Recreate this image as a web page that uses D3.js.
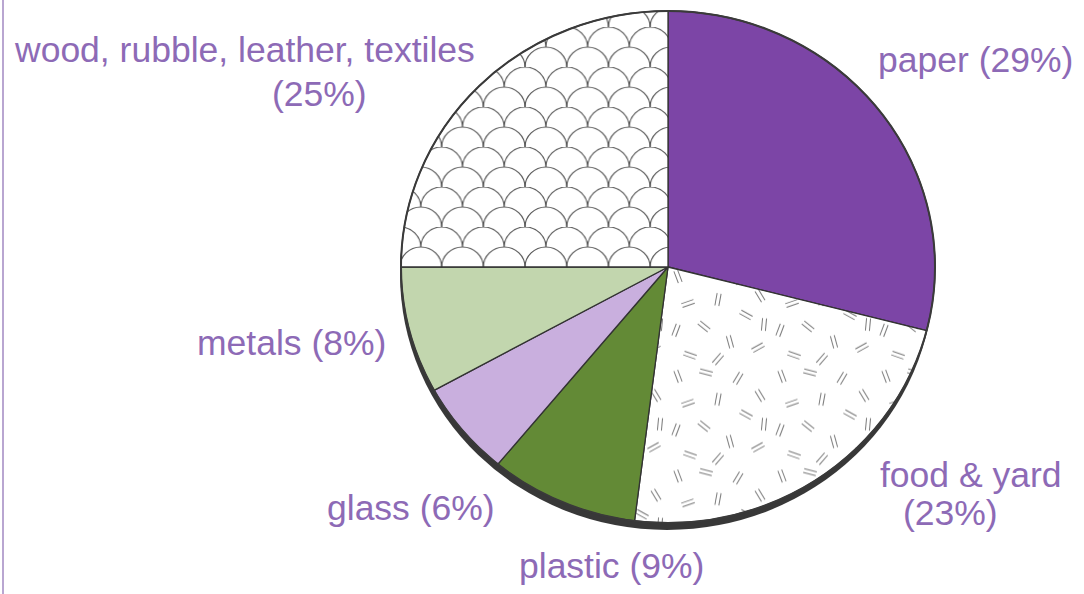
<!DOCTYPE html>
<html>
<head>
<meta charset="utf-8">
<script src="https://cdn.jsdelivr.net/npm/d3@7"></script>
<style>
  html, body { margin: 0; padding: 0; background: #fff; }
  svg { display: block; }
</style>
</head>
<body>
<script>
// ---- data ----
const categories = ["paper", "food & yard", "plastic", "glass", "metals", "wood, rubble, leather, textiles"];
const shares = [29, 23, 9, 6, 8, 25];
// how each label is split over lines (line text built from the data)
const labelBreak = [false, true, false, false, false, true];

// ---- layout / style ----
const W = 1084, H = 594;
const cx = 668, cy = 267, rx = 267, ry = 256;
const fills = ["#7c45a6", "url(#foodPat)", "#638a36", "#c9afde", "#c2d6ae", "url(#scalePat)"];
const labelColor = "#8d6ab6";
const labelPos = [
  [{x: 878, y: 72}],
  [{x: 880, y: 487}, {x: 903, y: 525}],
  [{x: 519, y: 578}],
  [{x: 327, y: 520}],
  [{x: 197, y: 355}],
  [{x: 15, y: 62}, {x: 272, y: 106}]
];

const svg = d3.select("body").append("svg").attr("width", W).attr("height", H);
svg.append("rect").attr("width", W).attr("height", H).attr("fill", "#fff");

// left border line
svg.append("line").attr("x1", 3).attr("x2", 3).attr("y1", 0).attr("y2", H)
  .attr("stroke", "#b9a6d1").attr("stroke-width", 2);

const defs = svg.append("defs");
const sy = ry / rx;

// fish-scale pattern
const sw = 41.7, sr = sw / 2;
const sp = defs.append("pattern").attr("id", "scalePat")
  .attr("patternUnits", "userSpaceOnUse")
  .attr("width", sw).attr("height", sw)
  .attr("x", 3).attr("y", 0);
sp.append("rect").attr("width", sw).attr("height", sw).attr("fill", "#fff");
const scaleArcs = [
  `M0,${sr} A${sr},${sr} 0 0 1 ${sw},${sr}`,
  `M${-sr},${sw} A${sr},${sr} 0 0 1 ${sr},${sw}`,
  `M${sr},${sw} A${sr},${sr} 0 0 1 ${sw + sr},${sw}`
];
scaleArcs.forEach(d => sp.append("path").attr("d", d).attr("fill", "none")
  .attr("stroke", "#555").attr("stroke-width", 1.2));

// food & yard: scattered double dashes
const fp = defs.append("pattern").attr("id", "foodPat")
  .attr("patternUnits", "userSpaceOnUse")
  .attr("width", 104).attr("height", 104);
fp.append("rect").attr("width", 104).attr("height", 104).attr("fill", "#fff");
const dashMarks = [
  [10, 10, 70], [38, 6, 15], [70, 12, 120], [92, 30, 60],
  [20, 38, 160], [50, 34, 100], [78, 50, 30], [8, 66, 110],
  [36, 62, 40], [62, 78, 75], [90, 84, 150], [22, 92, 20],
  [50, 96, 130], [96, 60, 95]
];
dashMarks.forEach(([x, y, a]) => {
  const g = fp.append("g").attr("transform", `translate(${x},${y}) rotate(${a})`);
  [-2, 2].forEach(o => g.append("line")
    .attr("x1", -6.5).attr("x2", 6.5).attr("y1", o).attr("y2", o)
    .attr("stroke", "#7a7a7a").attr("stroke-width", 1));
});

// ---- pie ----
const pie = d3.pie().sort(null).value(d => d);
const arcs = pie(shares);
const arc = d3.arc().innerRadius(0).outerRadius(rx);

const g = svg.append("g").attr("transform", `translate(${cx},${cy}) scale(1,${sy})`);

// drop shadow (offset darker disc)
g.append("ellipse").attr("cx", -1).attr("cy", 7 / sy).attr("rx", rx).attr("ry", rx)
  .attr("fill", "#383838");

g.selectAll("path.slice").data(arcs).enter().append("path")
  .attr("class", "slice")
  .attr("d", arc)
  .attr("fill", (d, i) => fills[i])
  .attr("stroke", "#333")
  .attr("stroke-width", 1.3)
  .attr("stroke-linejoin", "round")
  .attr("vector-effect", "non-scaling-stroke");

g.append("circle").attr("r", rx).attr("fill", "none")
  .attr("stroke", "#3a3a3a").attr("stroke-width", 2)
  .attr("vector-effect", "non-scaling-stroke");

// ---- labels ----
categories.forEach((c, i) => {
  const lines = labelBreak[i] ? [c, `(${shares[i]}%)`] : [`${c} (${shares[i]}%)`];
  lines.forEach((t, j) => {
    svg.append("text")
      .attr("x", labelPos[i][j].x).attr("y", labelPos[i][j].y)
      .attr("fill", labelColor)
      .attr("font-family", "'Liberation Sans', Arial, Helvetica, sans-serif")
      .attr("font-size", 35.5)
      .text(t);
  });
});
</script>
</body>
</html>
